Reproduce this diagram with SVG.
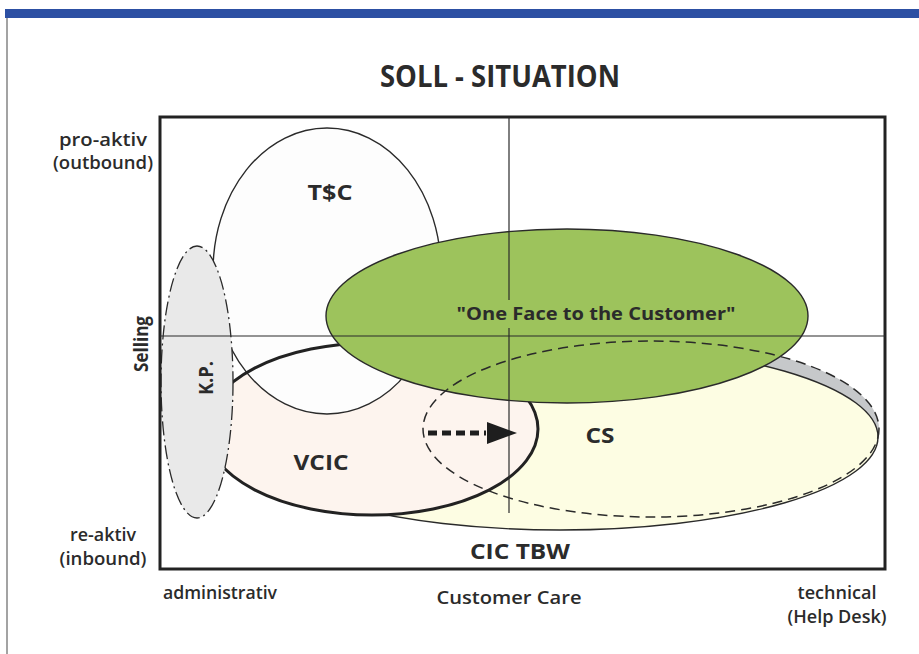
<svg xmlns="http://www.w3.org/2000/svg" width="919" height="654" viewBox="0 0 919 654">
<style>
.t{font-family:"Open Sans","Liberation Sans",sans-serif;font-weight:700;fill:#2b2b2b}
.ax{font-family:"Open Sans","Liberation Sans",sans-serif;font-weight:600;fill:#2b2b2b;font-size:18px}
.ol{stroke:#2a2a2a;stroke-width:1.4}
.grid{stroke:#2a2a2a;stroke-width:1.2;fill:none}
</style>
<rect width="919" height="654" fill="#ffffff"/>
<rect x="5" y="9" width="914" height="9" fill="#2c4fa3"/>
<line x1="7" y1="18" x2="7" y2="654" stroke="#666" stroke-width="1.2"/>
<text class="t" x="500" y="87" font-size="30" font-weight="600" text-anchor="middle" textLength="240" lengthAdjust="spacingAndGlyphs">SOLL - SITUATION</text>

<g id="axis-labels">
<text class="ax" x="103" y="146" text-anchor="middle" textLength="88" lengthAdjust="spacingAndGlyphs">pro-aktiv</text>
<text class="ax" x="103" y="169" text-anchor="middle" textLength="100" lengthAdjust="spacingAndGlyphs">(outbound)</text>
<text class="t" x="0" y="0" font-size="20" text-anchor="middle" textLength="56" lengthAdjust="spacingAndGlyphs" transform="translate(148 344) rotate(-90)">Selling</text>
<text class="ax" x="103" y="541" text-anchor="middle" textLength="66" lengthAdjust="spacingAndGlyphs">re-aktiv</text>
<text class="ax" x="103" y="565" text-anchor="middle" textLength="87" lengthAdjust="spacingAndGlyphs">(inbound)</text>
<text class="ax" x="163" y="599" textLength="114" lengthAdjust="spacingAndGlyphs">administrativ</text>
<text class="ax" x="509" y="604" font-size="20" text-anchor="middle" textLength="145" lengthAdjust="spacingAndGlyphs">Customer Care</text>
<text class="ax" x="837" y="599" text-anchor="middle" textLength="79" lengthAdjust="spacingAndGlyphs">technical</text>
<text class="ax" x="837" y="623" text-anchor="middle" textLength="99" lengthAdjust="spacingAndGlyphs">(Help Desk)</text>
</g>

<g id="CS-fill">
<ellipse cx="651" cy="429" rx="228" ry="88" fill="#c6c8ca"/>
</g>
<g id="CIC-TBW">
<ellipse cx="560" cy="437" rx="318" ry="93" fill="#fdfde3" class="ol"/>
<text class="t" x="520" y="559" font-size="21" font-weight="600" text-anchor="middle" textLength="100" lengthAdjust="spacingAndGlyphs">CIC TBW</text>
</g>
<g id="VCIC-fill">
<ellipse cx="372" cy="429" rx="166" ry="86" fill="#fdf4ee"/>
</g>
<g id="TSC">
<ellipse cx="327" cy="271" rx="114" ry="143" fill="#fdfdfd" class="ol"/>
<text class="t" x="330" y="200" font-size="21" text-anchor="middle" textLength="45" lengthAdjust="spacingAndGlyphs">T$C</text>
</g>
<g id="VCIC">
<ellipse cx="372" cy="429" rx="166" ry="86" fill="none" stroke="#222" stroke-width="3"/>
<text class="t" x="321" y="470" font-size="21" text-anchor="middle" textLength="55" lengthAdjust="spacingAndGlyphs">VCIC</text>
</g>
<g id="KP">
<ellipse cx="197" cy="382" rx="36" ry="136" fill="#e9e9e9" stroke="#2a2a2a" stroke-width="1.3" stroke-dasharray="14 4 2 4"/>
<text class="t" x="0" y="0" font-size="19" text-anchor="middle" textLength="34" lengthAdjust="spacingAndGlyphs" transform="translate(213 378) rotate(-90)">K.P.</text>
</g>
<g id="OneFace">
<ellipse cx="567" cy="316" rx="241" ry="87" fill="#9dc35c" class="ol"/>
<text class="t" x="596" y="320" font-size="18" font-weight="600" text-anchor="middle" textLength="279" lengthAdjust="spacingAndGlyphs">"One Face to the Customer"</text>
</g>
<g id="CS">
<ellipse cx="651" cy="429" rx="228" ry="88" fill="none" stroke="#2a2a2a" stroke-width="1.5" stroke-dasharray="10 6"/>
<text class="t" x="600" y="443" font-size="21" text-anchor="middle" textLength="29" lengthAdjust="spacingAndGlyphs">CS</text>
</g>

<g id="frame">
<rect x="160" y="117" width="725" height="452" fill="none" stroke="#222" stroke-width="3"/>
<line class="grid" x1="160" y1="336" x2="885" y2="336"/>
<line class="grid" x1="509" y1="117" x2="509" y2="300"/>
<line class="grid" x1="509" y1="328" x2="509" y2="513"/>
</g>

<g id="connectors">
<line x1="428" y1="433" x2="486" y2="433" stroke="#1e1e1e" stroke-width="5" stroke-dasharray="9 5"/>
<polygon points="487,422 517,433 487,444" fill="#1e1e1e"/>
</g>
</svg>
